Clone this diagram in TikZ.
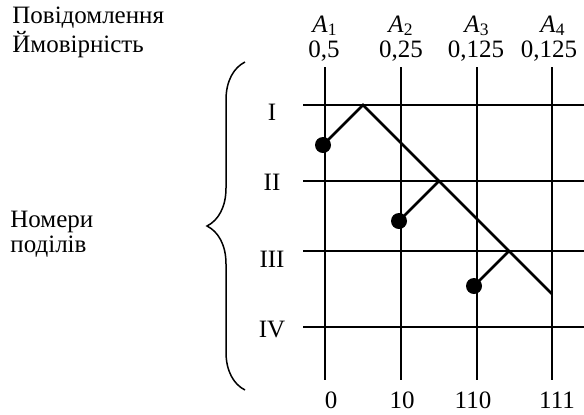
\documentclass[tikz,border=0pt]{standalone}
\usepackage{fontspec}
\setmainfont{Liberation Serif}
\usetikzlibrary{decorations.pathreplacing}

\begin{document}
\begin{tikzpicture}[x=0.5pt, y=-0.5pt,
    grid/.style={line width=0.8pt},
    tree/.style={line width=1.35pt},
    leaf/.style={circle, fill, inner sep=0pt, minimum size=8pt},
    lbl/.style={font=\fontsize{12.5}{12.5}\selectfont, inner sep=0pt}]
  \useasboundingbox (0,0) rectangle (584,414);
  % grid
  \foreach \x in {325,401,477,552}
    \draw[grid] (\x,67) -- (\x,380);
  \foreach \y in {105,181,251,327}
    \draw[grid] (303,\y) -- (584,\y);
  % headings over the columns
  \foreach \x/\xx/\i/\p in {325/324/1/{0,5}, 401/401/2/{0,25}, 477/476/3/{0,125}, 553/549/4/{0,125}} {
    \node[lbl, anchor=base] (a\i) at (\x,32) {\textit{A}\textsubscript{\i}};
    \node[lbl, anchor=base] (p\i) at (\xx,57) {\p};
  }
  \foreach \y/\r/\n in {120/I/1, 190/II/2, 267/III/3, 337/IV/4}
    \node[lbl, anchor=base] (r\n) at (272,\y) {\r};
  \foreach \x/\c in {331/0, 402/10, 473/110, 557/111}
    \node[lbl, anchor=base] (c\c) at (\x,408) {\c};
  \node[lbl, align=left, anchor=base west] (hdr) at (12,52) {Повідомлення\\Ймовірність};
  \node[lbl, align=left, anchor=base west] (parts) at (10,252) {Номери\\поділів};
  \draw[line width=0.75pt, decorate, decoration={brace, amplitude=19pt}] (245,390) -- (245,62);
  % code tree
  \coordinate (top) at (363,105);
  \coordinate (j1) at (439,181);
  \coordinate (j2) at (509,251);
  \coordinate (end) at (552,294);
  \node[leaf] (m1) at (323,145) {};
  \node[leaf] (m2) at (399,221) {};
  \node[leaf] (m3) at (474,286) {};
  \draw[tree] (m1.center) -- (top) -- (end);
  \draw[tree] (j1) -- (m2.center);
  \draw[tree] (j2) -- (m3.center);
\end{tikzpicture}
\end{document}
